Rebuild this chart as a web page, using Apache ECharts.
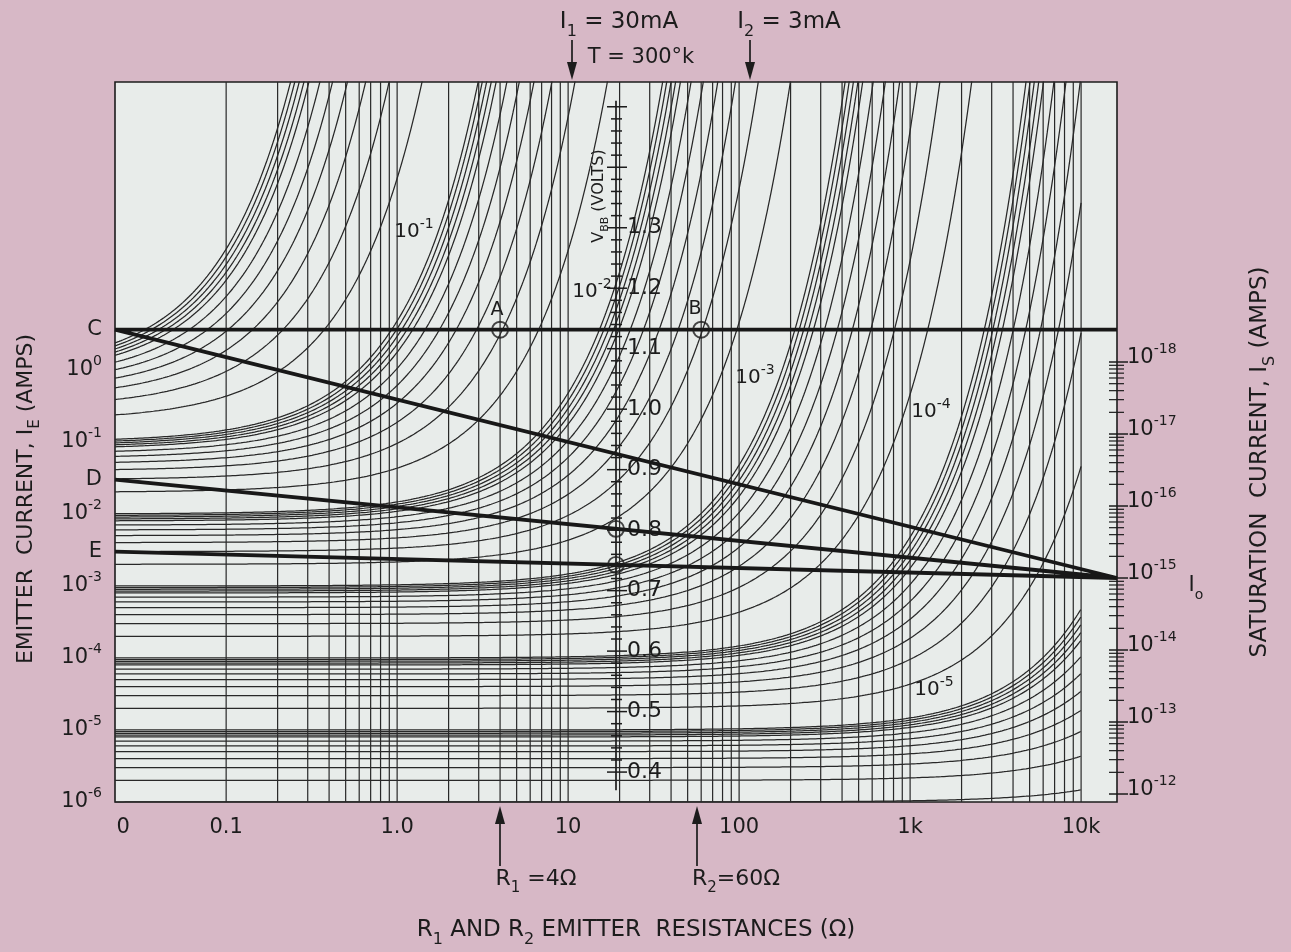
<!DOCTYPE html>
<html>
<head>
<meta charset="utf-8">
<title>Emitter current nomograph</title>
<script src="https://cdn.jsdelivr.net/npm/echarts@6.0.0/dist/echarts.min.js"></script>
<style>
  html, body { margin: 0; padding: 0; background: #d7b8c6; }
  #chart { width: 1291px; height: 952px; }
</style>
</head>
<body>
<div id="chart"></div>
<script>
var thermalVolt = 0.02585                    // kT/q at T = 300 K
var vtDecade = thermalVolt * Math.LN10       // volts per decade of current

// emitter current curves: k * 10^d amps
var curveDecades = [-6, -5, -4, -3, -2, -1]
var curveSteps = [1, 2, 3, 4, 5, 6, 7, 8, 8.5, 9, 9.5]
var curveTop = [1]

// resistance grid (ohms)
var rDecades = [0.1, 1, 10, 100, 1000]
var rSteps = [1, 2, 3, 4, 5, 6, 7, 8, 9]
var rEnd = 10000
var rTickValues = [0.025, 0.1, 1, 10, 100, 1000, 10000]
var rTickLabels = ['0', '0.1', '1.0', '10', '100', '1k', '10k']

// left scale (log10 of I_E)
var ieDecades = [0, -1, -2, -3, -4, -5, -6]
var ieMarkNames = ['C', 'D', 'E']

// worked example
var i1 = 0.03, i2 = 0.003      // I1 = 30 mA, I2 = 3 mA
var r1 = 4, r2 = 60            // R1 = 4 ohm, R2 = 60 ohm
var levelC = 0.56              // log10 of point C on the left scale

// middle V_BB scale (volts)
var vbbLabels = [0.4, 0.5, 0.6, 0.7, 0.8, 0.9, 1.0, 1.1, 1.2, 1.3]
var vbbRange = [0.37, 1.51]

// right scale, saturation current I_S
var isDecades = [-18, -17, -16, -15, -14, -13, -12]
var isSteps = [2, 3, 4, 5, 6, 7, 8, 9]
var logI0 = -15                // I_0 = 10^-15 A
var i0Level = -2.889           // where 10^-15 sits against the left decades

// ---- helpers ----
var xMin = -1.65, xMax = 4.21, yMin = -6, yMax = 4
var xMid = (xMin + xMax) / 2
var font = 'DejaVu Sans'
var ink = '#1c1c1c'
var lineInk = '#282828'

function log10(v) { return Math.log(v) / Math.LN10 }
function curveLevel(i, r) { return log10(i) + (i * r) / vtDecade }
function vbbLevel(v) { return (v / vtDecade + i0Level + logI0) / 2 }

function rich(size) {
  var s = Math.round(size * 0.68)
  return {
    m: { fontSize: size, fontFamily: font, color: ink, fill: ink, lineHeight: Math.round(size * 1.5), verticalAlign: 'middle' },
    p: { fontSize: s, fontFamily: font, color: ink, fill: ink, lineHeight: s, verticalAlign: 'top' },
    b: { fontSize: s, fontFamily: font, color: ink, fill: ink, lineHeight: s, verticalAlign: 'bottom' },
  }
}

function txt(x, y, text, size, rot) {
  return {
    type: 'text',
    x: x,
    y: y,
    rotation: rot || 0,
    silent: true,
    style: {
      text: text,
      rich: rich(size),
      fill: ink,
      fontSize: size,
      fontFamily: font,
      align: 'center',
      verticalAlign: 'middle',
    },
  }
}

function arrow(x, yTail, yHead) {
  var dir = yHead > yTail ? 1 : -1
  return [
    { type: 'polyline', silent: true, shape: { points: [[x, yTail], [x, yHead - dir * 12]] }, style: { stroke: ink, lineWidth: 1.7 } },
    { type: 'polygon', silent: true, shape: { points: [[x - 5, yHead - dir * 18], [x + 5, yHead - dir * 18], [x, yHead]] }, style: { fill: ink } },
  ]
}

// ---- curve family ----
var currents = []
curveDecades.forEach(function (d) {
  curveSteps.forEach(function (k) { currents.push(k * Math.pow(10, d)) })
})
currents = currents.concat(curveTop)

var curveSeries = currents.map(function (i) {
  var pts = []
  var xEnd = log10(rEnd)
  for (var n = 0; ; n++) {
    var x = Math.min(xMin + n * 0.004, xEnd)
    var y = curveLevel(i, Math.pow(10, x))
    pts.push([x, y])
    if (y > yMax + 0.3 || x >= xEnd) break
  }
  return {
    type: 'line',
    data: pts,
    symbol: 'none',
    silent: true,
    clip: true,
    lineStyle: { color: lineInk, width: 1.25 },
    z: 2,
  }
})

// vertical grid lines
var gridR = []
rDecades.forEach(function (d) {
  rSteps.forEach(function (k) { gridR.push(k * d) })
})
gridR.push(rEnd)

// V_BB ticks every 0.02 V
var vbbTicks = []
for (var n = Math.round(vbbRange[0] / 0.02) + 1; n * 0.02 <= vbbRange[1]; n++) {
  var v = +(n * 0.02).toFixed(2)
  var major = Math.abs(v * 10 - Math.round(v * 10)) < 1e-6 ? 1 : 0
  vbbTicks.push([v, major])
}

// right-hand ticks, spaced as printed
var isTicks = []
isDecades.forEach(function (d) {
  var p = i0Level + (logI0 - d)
  isTicks.push([p, 1, d])
  if (d < -12) {
    isSteps.forEach(function (k) { isTicks.push([p - (1 - log10(k)), 0, d]) })
  }
})

var levelD = log10(i1)
var levelE = log10(i2)

var option = {
  animation: false,
  backgroundColor: '#d7b8c6',
  grid: {
    left: 115,
    right: 174,
    top: 82,
    bottom: 150,
    show: true,
    backgroundColor: '#e8ecea',
    borderColor: '#1c1c1c',
    borderWidth: 1.6,
  },
  xAxis: {
    type: 'value',
    min: xMin,
    max: xMax,
    axisLine: { show: false },
    axisTick: { show: false },
    splitLine: { show: false },
    axisLabel: {
      customValues: rTickValues.map(log10),
      margin: 15,
      fontSize: 21,
      fontFamily: font,
      color: ink,
      formatter: function (v) {
        for (var i = 0; i < rTickValues.length; i++) {
          if (Math.abs(log10(rTickValues[i]) - v) < 1e-6) return rTickLabels[i]
        }
        return ''
      },
    },
  },
  yAxis: {
    type: 'value',
    min: yMin,
    max: yMax,
    axisLine: { show: false },
    axisTick: { show: false },
    splitLine: { show: false },
    axisLabel: {
      customValues: ieDecades.concat([levelC, levelD, levelE]),
      margin: 13,
      rich: rich(21),
      formatter: function (v) {
        var marks = [levelC, levelD, levelE]
        for (var i = 0; i < marks.length; i++) {
          if (Math.abs(marks[i] - v) < 1e-6) return '{m|' + ieMarkNames[i] + '}'
        }
        return '{m|10}{p|' + Math.round(v) + '}'
      },
    },
  },
  series: [
    {
      type: 'custom',
      silent: true,
      z: 1,
      data: gridR.map(function (r) { return [log10(r), 0] }),
      renderItem: function (params, api) {
        var x = api.value(0)
        var a = api.coord([x, yMin])
        var b = api.coord([x, yMax])
        return { type: 'line', shape: { x1: a[0], y1: a[1], x2: b[0], y2: b[1] }, style: { stroke: lineInk, lineWidth: 1.2 } }
      },
    },
  ]
    .concat(curveSeries)
    .concat([
      {
        type: 'line',
        silent: true,
        symbol: 'none',
        z: 4,
        data: [[xMid, vbbLevel(vbbRange[0])], [xMid, vbbLevel(vbbRange[1])]],
        lineStyle: { color: ink, width: 1.7 },
      },
      {
        type: 'custom',
        silent: true,
        z: 5,
        data: vbbTicks,
        renderItem: function (params, api) {
          var v = api.value(0)
          var major = api.value(1)
          var p = api.coord([xMid, vbbLevel(v)])
          var kids = [
            {
              type: 'line',
              shape: { x1: p[0] - (major ? 9 : 5), y1: p[1], x2: p[0] + (major ? 11 : 6), y2: p[1] },
              style: { stroke: ink, lineWidth: 1.5 },
            },
          ]
          if (major && vbbLabels.indexOf(v) >= 0) {
            kids.push({
              type: 'text',
              x: p[0] + 11,
              y: p[1],
              style: { text: v.toFixed(1), fill: ink, fontSize: 22, fontFamily: font, align: 'left', verticalAlign: 'middle' },
            })
          }
          return { type: 'group', children: kids }
        },
      },
      {
        type: 'custom',
        silent: true,
        z: 5,
        data: isTicks,
        renderItem: function (params, api) {
          var p = api.coord([xMax, api.value(0)])
          var major = api.value(1)
          if (!major) {
            return { type: 'line', shape: { x1: p[0] - 8, y1: p[1], x2: p[0] + 7, y2: p[1] }, style: { stroke: ink, lineWidth: 1.2 } }
          }
          return {
            type: 'group',
            children: [
              { type: 'line', shape: { x1: p[0] - 8, y1: p[1], x2: p[0] + 11, y2: p[1] }, style: { stroke: ink, lineWidth: 1.5 } },
              {
                type: 'text',
                x: p[0] + 10,
                y: p[1] - 4,
                style: { text: '{m|10}{p|' + api.value(2) + '}', rich: rich(21), fill: ink, fontSize: 21, fontFamily: font, align: 'left', verticalAlign: 'middle' },
              },
            ],
          }
        },
      },
      {
        type: 'line',
        silent: true,
        symbol: 'none',
        z: 6,
        data: [[xMin, levelC], [xMax, levelC], '-', [xMin, levelC], [xMax, i0Level], '-', [xMin, levelD], [xMax, i0Level], '-', [xMin, levelE], [xMax, i0Level]],
        connectNulls: false,
        lineStyle: { color: '#181818', width: 3.8 },
      },
      {
        type: 'scatter',
        silent: true,
        z: 7,
        symbol: 'circle',
        symbolSize: 16,
        data: [
          [log10(r1), levelC],
          [log10(r2), levelC],
          [xMid, (levelD + i0Level) / 2],
          [xMid, (levelE + i0Level) / 2],
        ],
        itemStyle: { color: 'rgba(0,0,0,0)', borderColor: ink, borderWidth: 1.9 },
      },
    ]),
  graphic: [
    // in-plot labels
    txt(414, 232, '{m|10}{p|-1}', 20),
    txt(592, 292, '{m|10}{p|-2}', 20),
    txt(755, 378, '{m|10}{p|-3}', 20),
    txt(931, 412, '{m|10}{p|-4}', 20),
    txt(934, 690, '{m|10}{p|-5}', 20),
    txt(497, 310, '{m|A}', 19),
    txt(695, 309, '{m|B}', 19),
    txt(599, 196, '{m|V}{b|BB}{m| (VOLTS)}', 16, Math.PI / 2),
    // top notes
    txt(619, 22, '{m|I}{b|1}{m| = 30mA}', 23),
    txt(641, 58, '{m|T = 300°k}', 21),
    txt(789, 22, '{m|I}{b|2}{m| = 3mA}', 23),
    // bottom notes
    txt(536, 879, '{m|R}{b|1}{m| =4Ω}', 22),
    txt(736, 879, '{m|R}{b|2}{m|=60Ω}', 22),
    txt(636, 930, '{m|R}{b|1}{m| AND R}{b|2}{m| EMITTER  RESISTANCES (Ω)}', 23),
    // axis titles and I0
    txt(26, 499, '{m|EMITTER  CURRENT, I}{b|E}{m| (AMPS)}', 22, Math.PI / 2),
    txt(1260, 462, '{m|SATURATION  CURRENT, I}{b|S}{m| (AMPS)}', 23, Math.PI / 2),
    txt(1196, 586, '{m|I}{b|o}', 21),
  ]
    .concat(arrow(572, 40, 80))
    .concat(arrow(750, 40, 80))
    .concat(arrow(500, 866, 806))
    .concat(arrow(697, 866, 806)),
}

var chart = echarts.init(document.getElementById('chart'))
chart.setOption(option)

window.addEventListener('resize', function () {
  chart.resize()
})
</script>
</body>
</html>
